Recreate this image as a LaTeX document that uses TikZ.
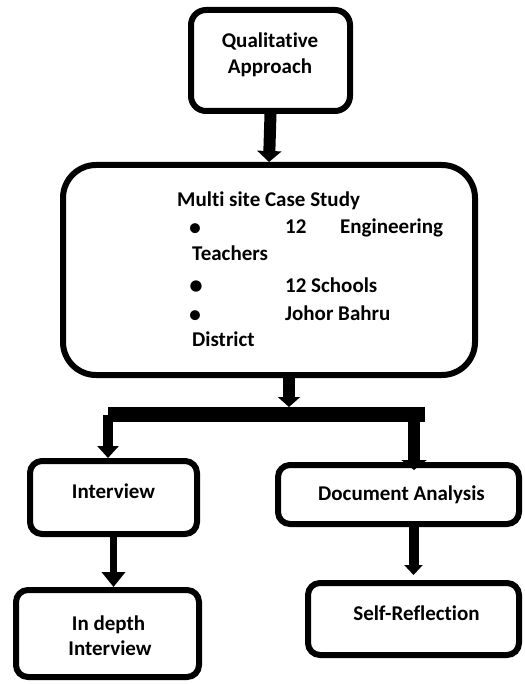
\documentclass[tikz,border=0pt]{standalone}
\usepackage{fontspec}
\setmainfont[Ligatures=CommonOff]{Carlito}
\usetikzlibrary{arrows.meta}
\begin{document}
\begin{tikzpicture}[x=1pt,y=-1pt,
  box/.style={draw, line width=6pt, rounded corners=#1, inner sep=0pt, rectangle},
  lbl/.style={font=\bfseries\fontsize{21}{26}\selectfont, inner sep=0pt, anchor=base},
  lblw/.style={lbl, anchor=base west},
  bul/.style={font=\fontsize{#1}{#1}\selectfont, inner sep=0pt},
  shaft/.style={line width=#1}]
\useasboundingbox (0,0) rectangle (524,684);
% boxes
\node[box=15pt, minimum width=159pt, minimum height=101pt] (q) at (270.5,60.5) {};
\node[box=33pt, minimum width=412pt, minimum height=210pt] (m) at (269,270) {};
\node[box=12pt, minimum width=167pt, minimum height=73pt] (i) at (113.5,497.5) {};
\node[box=12pt, minimum width=183pt, minimum height=87pt] (id) at (107.5,633.5) {};
\node[box=12pt, minimum width=241pt, minimum height=59pt] (da) at (398.5,494.5) {};
\node[box=12pt, minimum width=211pt, minimum height=72pt] (sr) at (413.5,619) {};
% labels
\node[lbl] (q1) at (270,47.5) {Qualitative};
\node[lbl] (q2) at (270,73.5) {Approach};
\node[lblw] (m0) at (177,207) {Multi site Case Study};
\node[bul=28] (b1) at (195,230.5) {•};
\node[lblw] (m1a) at (285,234) {12};
\node[lblw] (m1b) at (340,234) {Engineering};
\node[lblw] (m2) at (192,260.5) {Teachers};
\node[bul=32] (b2) at (196,288) {•};
\node[lblw] (m3) at (285,292.5) {12 Schools};
\node[bul=28] (b3) at (195,317) {•};
\node[lblw] (m4) at (285,320) {Johor Bahru};
\node[lblw] (m5) at (192,346) {District};
\node[lbl] (il) at (113.5,498) {Interview};
\node[lbl] (dal) at (401.5,500) {Document Analysis};
\node[lbl] (srl) at (416.5,620) {Self-Reflection};
\node[lbl] (id1) at (108.5,630) {In depth};
\node[lbl] (id2) at (110,655) {Interview};
% connectors
\coordinate (bt) at (289,407);
\coordinate (bl) at (108,414.5);
\coordinate (br) at (425,414.5);
\coordinate (ld) at (108,415);
\coordinate (rd) at (414,415);
\coordinate (re) at (414,470);
\draw[shaft=12pt, -{Triangle[width=24pt,length=11pt]}] (q.south) -- (m.north);
\draw[shaft=12pt, -{Triangle[width=22pt,length=10pt]}] (m.south -| bt) -- (bt);
\draw[shaft=15pt] (bl) -- (br);
\draw[shaft=10pt, -{Triangle[width=21pt,length=12pt]}] (ld) -- (ld |- i.north);
\draw[shaft=12pt, -{Triangle[width=25pt,length=10pt]}] (rd) -- (re);
\draw[shaft=7pt, -{Triangle[width=23pt,length=15pt]}] (i.south) -- (i.south |- id.north);
\draw[shaft=10pt, -{Triangle[width=18pt,length=10pt]}, shorten >=5pt] (sr.north |- da.south) -- (sr.north);
\end{tikzpicture}
\end{document}
